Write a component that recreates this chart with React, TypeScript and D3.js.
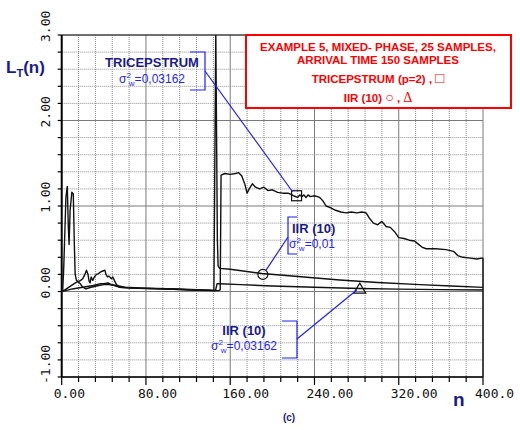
import React from 'react';
import * as d3 from 'd3';

// [n, L_T(n)]
const tricepstrum: [number, number][] = [
  [0, 0], [3, 0.02], [8, 0.06], [13, 0.1], [18, 0.13], [20, 0.15], [22, 0.2], [23.5, 0.25],
  [25, 0.2], [26, 0.12], [27, 0.1], [28, 0.17], [29.5, 0.13], [31, 0.17], [33, 0.2], [35, 0.21],
  [37, 0.23], [39, 0.24], [41, 0.25], [42, 0.2], [43.5, 0.17], [45, 0.18], [47, 0.15], [48.5, 0.17],
  [50, 0.13], [52, 0.08], [55, 0.05], [65, 0.04], [80, 0.035], [100, 0.03], [120, 0.02], [140, 0.015],
  [149, 0.01], [150.5, 0.02], [151.3, 1.36], [155, 1.38], [160, 1.37], [165, 1.38], [168, 1.39],
  [171, 1.35], [174, 1.25], [176, 1.15], [178, 1.2], [181, 1.26], [184, 1.22], [188, 1.2], [192, 1.22],
  [196, 1.18], [200, 1.19], [205, 1.16], [210, 1.15], [215, 1.15], [220, 1.12], [224, 1.1], [226, 1.13],
  [228, 1.11], [230, 1.13], [232, 1.1], [234, 1.13], [236, 1.11], [240, 1.12], [245, 1.1], [248, 1.06],
  [251, 1.0], [255, 0.98], [260, 0.95], [265, 0.93], [270, 0.92], [275, 0.93], [280, 0.92], [285, 0.93],
  [289, 0.92], [292, 0.86], [296, 0.8], [300, 0.78], [304, 0.82], [308, 0.76], [312, 0.75], [316, 0.7],
  [320, 0.63], [325, 0.62], [330, 0.6], [335, 0.59], [338, 0.56], [342, 0.52], [346, 0.5], [355, 0.5],
  [365, 0.49], [372, 0.47], [376, 0.42], [381, 0.4], [388, 0.39], [394, 0.38], [399, 0.39], [400, 0.39],
  [400, -1],
];

const iirLowNoise: [number, number][] = [
  [0, 0], [2, 0.005], [10, 0.03], [20, 0.05], [30, 0.07], [36, 0.09], [40, 0.09], [44, 0.1], [47, 0.08],
  [52, 0.07], [60, 0.05], [80, 0.04], [110, 0.03], [140, 0.015], [144.5, 0.01], [146.3, 3.05],
  [147.8, 0.6], [148.5, 0.3], [150, 0.27], [160, 0.26], [190, 0.21], [230, 0.17], [264, 0.135],
  [300, 0.105], [340, 0.08], [370, 0.065], [400, 0.048],
];

const iirHighNoise: [number, number][] = [
  [0, 0], [1, 0.02], [2, 0.3], [4, 1.1], [5.3, 1.23], [6.3, 0.75], [7, 0.55], [8, 0.95], [9.6, 1.16],
  [11, 1.14], [12, 0.55], [12.8, 0.2], [14, 0.13], [17, 0.1], [20, 0.05], [23, 0.03], [28, 0.05],
  [35, 0.07], [40, 0.08], [45, 0.08], [50, 0.07], [55, 0.05], [70, 0.04], [100, 0.03], [130, 0.015],
  [146, 0.01], [147.5, 0.09], [150, 0.09], [170, 0.08], [200, 0.065], [240, 0.05], [283, 0.035],
  [320, 0.028], [360, 0.022], [400, 0.018],
];

const xTicks = [0, 80, 160, 240, 320, 400];
const xTickLabels = ['0.00', '80.00', '160.00', '240.00', '320.00', '400.0'];
const yTicks = [-1, 0, 1, 2, 3];
const yTickLabels = ['-1.00', '0.00', '1.00', '2.00', '3.00'];

// marker positions [n, value]
const squareAt: [number, number] = [223, 1.12];
const circleAt: [number, number] = [191, 0.2];
const triangleAt: [number, number] = [283, 0.04];

const NAVY = '#1a1a8a';
const BLUE = '#1f1fff';
const RED = '#ff0000';
const SANS = '"Liberation Sans", Arial, sans-serif';
const MONO = '"DejaVu Sans Mono", monospace';

function Sigma({ x, y, value, anchor }: { x: number; y: number; value: string; anchor: string }) {
  return (
    <text x={x} y={y} fill={BLUE} fontFamily={SANS} fontSize={12} textAnchor={anchor}>
      σ<tspan fontSize={8} dy={-5}>2</tspan>
      <tspan fontSize={8} dy={8} dx={-2}>w</tspan>
      <tspan dy={-3}>={value}</tspan>
    </text>
  );
}

export default function App() {
  const x = d3.scaleLinear().domain([0, 400]).range([61.7, 483]);
  const y = d3.scaleLinear().domain([-1, 3]).range([377, 35]);
  const line = d3.line<[number, number]>().x(d => x(d[0])).y(d => y(d[1]));

  const minorX = d3.range(0, 401, 16);
  const minorY = d3.range(-1, 3.001, 0.2);

  const [sx, sy] = [x(squareAt[0]), y(squareAt[1])];
  const [cx, cy] = [x(circleAt[0]), y(circleAt[1])];
  const [tx, ty] = [x(triangleAt[0]), y(triangleAt[1])];

  return (
    <svg width={520} height={430} style={{ position: 'absolute', left: 0, top: 0, background: '#fff' }}>
      <defs>
        <clipPath id="plot">
          <rect x={x(0)} y={y(3)} width={x(400) - x(0) + 1} height={y(-1) - y(3)} />
        </clipPath>
      </defs>

      {/* grid */}
      {minorX.map(v => (
        <line key={'gx' + v} x1={x(v)} x2={x(v)} y1={y(3)} y2={y(-1)}
          stroke={v % 80 === 0 ? '#7a7a7a' : '#8c8c8c'} strokeWidth={1}
          strokeDasharray={v % 80 === 0 ? undefined : '1,1'} />
      ))}
      {minorY.map(v => {
        const major = Math.abs(v - Math.round(v)) < 1e-6;
        return (
          <line key={'gy' + v.toFixed(1)} x1={x(0)} x2={x(400)} y1={y(v)} y2={y(v)}
            stroke={major ? '#7a7a7a' : '#8c8c8c'} strokeWidth={1}
            strokeDasharray={major ? undefined : '1,1'} />
        );
      })}

      {/* axes */}
      <line x1={x(0)} x2={x(0)} y1={y(3)} y2={y(-1)} stroke="#000" strokeWidth={2} />
      <line x1={x(0)} x2={x(400)} y1={y(-1)} y2={y(-1)} stroke="#000" strokeWidth={1.5} />
      <line x1={x(0)} x2={x(400)} y1={y(3)} y2={y(3)} stroke="#222" strokeWidth={1.2} />
      {minorX.map(v => (
        <line key={'tx' + v} x1={x(v)} x2={x(v)} y1={y(-1)} y2={y(-1) + (v % 80 === 0 ? 8 : 5)}
          stroke="#000" strokeWidth={1.2} />
      ))}
      {minorY.map(v => (
        <line key={'ty' + v.toFixed(1)} x1={x(0) - 4} x2={x(0)} y1={y(v)} y2={y(v)} stroke="#000" strokeWidth={1.2} />
      ))}
      {xTicks.map((v, i) => (
        <text key={'xl' + v} x={x(v) - 8} y={398} fontFamily={MONO} fontSize={13} fill="#111">
          {xTickLabels[i]}
        </text>
      ))}
      {yTicks.map((v, i) => (
        <text key={'yl' + v} transform={`translate(50,${y(v) + 7}) rotate(-90)`}
          fontFamily={MONO} fontSize={13} fill="#111">
          {yTickLabels[i]}
        </text>
      ))}

      {/* curves */}
      <g clipPath="url(#plot)" fill="none" stroke="#111" strokeWidth={1.4} strokeLinejoin="round">
        <path d={line(iirHighNoise) ?? ''} />
        <path d={line(iirLowNoise) ?? ''} />
        <path d={line(tricepstrum) ?? ''} />
      </g>

      {/* markers */}
      <rect x={sx - 5} y={sy - 5} width={10} height={10} fill="none" stroke="#111" strokeWidth={1.2} />
      <circle cx={cx} cy={cy} r={5} fill="none" stroke="#111" strokeWidth={1.2} />
      <path d={`M${tx},${ty - 5}L${tx + 6},${ty + 5}L${tx - 6},${ty + 5}Z`} fill="none" stroke="#111" strokeWidth={1.2} />

      {/* annotations */}
      <g stroke={BLUE} strokeWidth={1.2} fill="none">
        <path d="M190,52H205V90H190" />
        <line x1={205} y1={71} x2={sx - 4} y2={sy - 4} />
        <path d="M297,217H288V254H297" />
        <line x1={288} y1={237} x2={cx + 3} y2={cy - 4} />
        <path d="M282,321H297V358H282" />
        <line x1={297} y1={339} x2={tx - 3} y2={ty + 2} />
      </g>
      <text x={152} y={67} textAnchor="middle" fill={NAVY} fontFamily={SANS} fontSize={13} fontWeight="bold">TRICEPSTRUM</text>
      <Sigma x={152} y={83} value="0,03162" anchor="middle" />
      <text x={292} y={233} fill={NAVY} fontFamily={SANS} fontSize={13} fontWeight="bold">IIR (10)</text>
      <Sigma x={289} y={248} value="0,01" anchor="start" />
      <text x={244} y={335} textAnchor="middle" fill={NAVY} fontFamily={SANS} fontSize={13} fontWeight="bold">IIR (10)</text>
      <Sigma x={244} y={350} value="0,03162" anchor="middle" />

      {/* legend box */}
      <rect x={246} y={35} width={265} height={73} fill="#fff" stroke={RED} strokeWidth={2} />
      <g fill={RED} fontFamily={SANS} fontSize={11.5} fontWeight="bold" textAnchor="middle">
        <text x={378} y={51}>EXAMPLE 5, MIXED- PHASE, 25 SAMPLES,</text>
        <text x={378} y={64}>ARRIVAL TIME 150 SAMPLES</text>
        <text x={378} y={83}>TRICEPSTRUM (p=2) , <tspan fontSize={15} fontWeight="normal">□</tspan></text>
        <text x={378} y={102}>IIR (10) <tspan fontSize={14} fontWeight="normal">○</tspan> , <tspan fontSize={14} fontWeight="normal" fontFamily="'Liberation Serif', serif">Δ</tspan></text>
      </g>

      {/* axis titles */}
      <text x={6} y={73} fill={NAVY} fontFamily={SANS} fontSize={17} fontWeight="bold">
        L<tspan fontSize={11} dy={4}>T</tspan><tspan dy={-4}>(n)</tspan>
      </text>
      <text x={453} y={406} fill={NAVY} fontFamily={SANS} fontSize={19} fontWeight="bold">n</text>
      <text x={289} y={421} textAnchor="middle" fill={NAVY} fontFamily={SANS} fontSize={10} fontWeight="bold">(c)</text>
    </svg>
  );
}
